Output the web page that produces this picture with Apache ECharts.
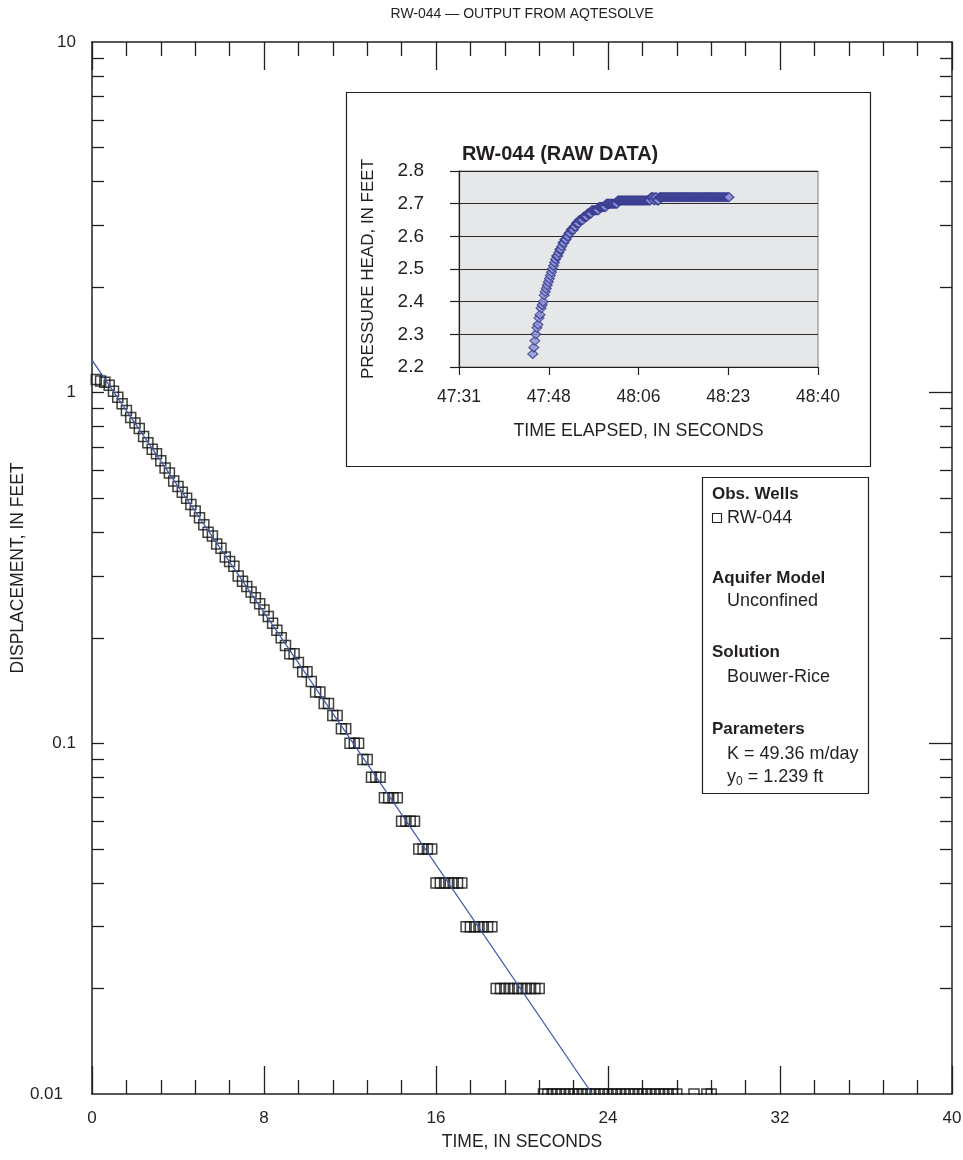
<!DOCTYPE html>
<html>
<head>
<meta charset="utf-8">
<script src="https://cdn.jsdelivr.net/npm/echarts@6/dist/echarts.min.js"></script>
<style>
  html, body { margin: 0; background: #fff; }
  #chart { width: 963px; height: 1160px; }
</style>
</head>
<body>
<div id="chart"></div>
<script>
// RW-044 slug test — AQTESOLVE output (displacement vs time, log y)
// with the raw pressure-head record as an inset.

// ── Observed displacement (ft) vs time (s); 0.00 readings left off the log axis
const obsTime = [
  0.2, 0.4, 0.6, 0.8, 1.0, 1.2, 1.4, 1.6, 1.8, 2.0,
  2.2, 2.4, 2.6, 2.8, 3.0, 3.2, 3.4, 3.6, 3.8, 4.0,
  4.2, 4.4, 4.6, 4.8, 5.0, 5.2, 5.4, 5.6, 5.8, 6.0,
  6.2, 6.4, 6.6, 6.8, 7.0, 7.2, 7.4, 7.6, 7.8, 8.0,
  8.2, 8.4, 8.6, 8.8, 9.0, 9.2, 9.4, 9.6, 9.8, 10.0,
  10.2, 10.4, 10.6, 10.8, 11.0, 11.2, 11.4, 11.6, 11.8, 12.0,
  12.2, 12.4, 12.6, 12.8, 13.0, 13.2, 13.4, 13.6, 13.8, 14.0,
  14.2, 14.4, 14.6, 14.8, 15.0, 15.2, 15.4, 15.6, 15.8, 16.0,
  16.2, 16.4, 16.6, 16.8, 17.0, 17.2, 17.4, 17.6, 17.8, 18.0,
  18.2, 18.4, 18.6, 18.8, 19.0, 19.2, 19.4, 19.6, 19.8, 20.0,
  20.2, 20.4, 20.6, 20.8, 21.0, 21.2, 21.4, 21.6, 21.8, 22.0,
  22.2, 22.4, 22.6, 22.8, 23.0, 23.2, 23.4, 23.6, 23.8, 24.0,
  24.2, 24.4, 24.6, 24.8, 25.0, 25.2, 25.4, 25.6, 25.8, 26.0,
  26.2, 26.4, 26.6, 26.8, 27.0, 27.2, 28.0, 28.6, 28.8
];
const obsDisp = [
  1.09, 1.08, 1.07, 1.05, 1.01, 0.97, 0.93, 0.89, 0.85, 0.82,
  0.79, 0.75, 0.72, 0.69, 0.67, 0.64, 0.61, 0.59, 0.56, 0.54,
  0.52, 0.50, 0.48, 0.46, 0.44, 0.42, 0.40, 0.39, 0.37, 0.36,
  0.34, 0.33, 0.32, 0.30, 0.29, 0.28, 0.27, 0.26, 0.25, 0.24,
  0.23, 0.22, 0.21, 0.20, 0.19, 0.18, 0.18, 0.17, 0.16, 0.16,
  0.15, 0.14, 0.14, 0.13, 0.13, 0.12, 0.12, 0.11, 0.11, 0.10,
  0.10, 0.10, 0.09, 0.09, 0.08, 0.08, 0.08, 0.07, 0.07, 0.07,
  0.07, 0.06, 0.06, 0.06, 0.06, 0.05, 0.05, 0.05, 0.05, 0.04,
  0.04, 0.04, 0.04, 0.04, 0.04, 0.04, 0.03, 0.03, 0.03, 0.03,
  0.03, 0.03, 0.03, 0.02, 0.02, 0.02, 0.02, 0.02, 0.02, 0.02,
  0.02, 0.02, 0.02, 0.02, 0.01, 0.01, 0.01, 0.01, 0.01, 0.01,
  0.01, 0.01, 0.01, 0.01, 0.01, 0.01, 0.01, 0.01, 0.01, 0.01,
  0.01, 0.01, 0.01, 0.01, 0.01, 0.01, 0.01, 0.01, 0.01, 0.01,
  0.01, 0.01, 0.01, 0.01, 0.01, 0.01, 0.01, 0.01, 0.01
];

// Bouwer-Rice fit, drawn as a straight line on the log axis
const fitTime = [0, 23.27];
const fitDisp = [1.239, 0.01];

// ── Raw pressure head (ft) vs clock time (s past the hour) for the inset
const rawTime = [
  2865.4, 2865.6, 2865.8, 2866.0, 2866.2, 2866.4, 2866.6, 2866.8, 2867.0, 2867.2,
  2867.4, 2867.6, 2867.8, 2868.0, 2868.2, 2868.4, 2868.6, 2868.8, 2869.0, 2869.2,
  2869.4, 2869.6, 2869.8, 2870.0, 2870.2, 2870.4, 2870.6, 2870.8, 2871.0, 2871.2,
  2871.4, 2871.6, 2871.8, 2872.0, 2872.2, 2872.4, 2872.6, 2872.8, 2873.0, 2873.2,
  2873.4, 2873.6, 2873.8, 2874.0, 2874.2, 2874.4, 2874.6, 2874.8, 2875.0, 2875.2,
  2875.4, 2875.6, 2875.8, 2876.0, 2876.2, 2876.4, 2876.6, 2876.8, 2877.0, 2877.2,
  2877.4, 2877.6, 2877.8, 2878.0, 2878.2, 2878.4, 2878.6, 2878.8, 2879.0, 2879.2,
  2879.4, 2879.6, 2879.8, 2880.0, 2880.2, 2880.4, 2880.6, 2880.8, 2881.0, 2881.2,
  2881.4, 2881.6, 2881.8, 2882.0, 2882.2, 2882.4, 2882.6, 2882.8, 2883.0, 2883.2,
  2883.4, 2883.6, 2883.8, 2884.0, 2884.2, 2884.4, 2884.6, 2884.8, 2885.0, 2885.2,
  2885.4, 2885.6, 2885.8, 2886.0, 2886.2, 2886.4, 2886.6, 2886.8, 2887.0, 2887.2,
  2887.4, 2887.6, 2887.8, 2888.0, 2888.2, 2888.4, 2888.6, 2888.8, 2889.0, 2889.2,
  2889.4, 2889.6, 2889.8, 2890.0, 2890.2, 2890.4, 2890.6, 2890.8, 2891.0, 2891.2,
  2891.4, 2891.6, 2891.8, 2892.0, 2892.2, 2892.4, 2892.6, 2892.8, 2893.0, 2893.2,
  2893.4, 2893.6, 2893.8, 2894.0, 2894.2, 2894.4, 2894.6, 2894.8, 2895.0, 2895.2,
  2895.4, 2895.6, 2895.8, 2896.0, 2896.2, 2896.4, 2896.6, 2896.8, 2897.0, 2897.2,
  2897.4, 2897.6, 2897.8, 2898.0, 2898.2, 2898.4, 2898.6, 2898.8, 2899.0, 2899.2,
  2899.4, 2899.6, 2899.8, 2900.0, 2900.2, 2900.4, 2900.6, 2900.8, 2901.0, 2901.2,
  2901.4, 2901.6, 2901.8, 2902.0, 2902.2, 2902.4, 2902.6, 2902.8, 2903.0, 2903.2
];
const rawHead = [
  2.24, 2.26, 2.28, 2.30, 2.32, 2.33, 2.35, 2.36, 2.38, 2.39,
  2.40, 2.42, 2.43, 2.44, 2.45, 2.46, 2.47, 2.48, 2.49, 2.50,
  2.51, 2.52, 2.53, 2.54, 2.54, 2.55, 2.56, 2.56, 2.57, 2.58,
  2.58, 2.59, 2.59, 2.60, 2.60, 2.61, 2.61, 2.62, 2.62, 2.62,
  2.63, 2.63, 2.64, 2.64, 2.64, 2.65, 2.65, 2.65, 2.65, 2.66,
  2.66, 2.66, 2.66, 2.67, 2.67, 2.67, 2.67, 2.68, 2.68, 2.68,
  2.68, 2.68, 2.68, 2.68, 2.69, 2.69, 2.69, 2.69, 2.69, 2.69,
  2.69, 2.70, 2.70, 2.70, 2.70, 2.70, 2.70, 2.70, 2.70, 2.70,
  2.70, 2.70, 2.71, 2.71, 2.71, 2.71, 2.71, 2.71, 2.71, 2.71,
  2.71, 2.71, 2.71, 2.71, 2.71, 2.71, 2.71, 2.71, 2.71, 2.71,
  2.71, 2.71, 2.71, 2.71, 2.71, 2.71, 2.71, 2.71, 2.71, 2.71,
  2.71, 2.71, 2.71, 2.71, 2.72, 2.72, 2.72, 2.71, 2.72, 2.72,
  2.71, 2.71, 2.72, 2.72, 2.72, 2.72, 2.72, 2.72, 2.72, 2.72,
  2.72, 2.72, 2.72, 2.72, 2.72, 2.72, 2.72, 2.72, 2.72, 2.72,
  2.72, 2.72, 2.72, 2.72, 2.72, 2.72, 2.72, 2.72, 2.72, 2.72,
  2.72, 2.72, 2.72, 2.72, 2.72, 2.72, 2.72, 2.72, 2.72, 2.72,
  2.72, 2.72, 2.72, 2.72, 2.72, 2.72, 2.72, 2.72, 2.72, 2.72,
  2.72, 2.72, 2.72, 2.72, 2.72, 2.72, 2.72, 2.72, 2.72, 2.72,
  2.72, 2.72, 2.72, 2.72, 2.72, 2.72, 2.72, 2.72, 2.72, 2.72
];

// Log-axis tick values (decades carry the longer ticks on the right side)
const yMajorTicks = [0.1, 1];
const yMinorTicks = [
  0.02, 0.03, 0.04, 0.05, 0.06, 0.07, 0.08, 0.09,
  0.2, 0.3, 0.4, 0.5, 0.6, 0.7, 0.8, 0.9,
  2, 3, 4, 5, 6, 7, 8, 9
];

// ── Styling ─────────────────────────────────────────────────────────────
const FONT = '"Liberation Sans Narrow", "Arial Narrow", "Liberation Sans", Arial, sans-serif';
const INK = '#231f20';
const FIT_BLUE = '#3d5aa8';
const RAW_EDGE = '#2f338a';
const RAW_FILL = '#8f94d4';

const MAIN = { left: 92, top: 42, width: 860, height: 1052 };
const INSET = { left: 459, top: 171, width: 359, height: 196 };

const txt = (size, extra) => Object.assign({ color: INK, fontFamily: FONT, fontSize: size }, extra || {});
const ln = (w) => ({ color: INK, width: w });

// log axis positions for the helper tick axes
const toLog = (arr) => arr.map(v => Math.log10(v));

// seconds -> mm:ss (Excel-style elapsed clock)
function mmss(v) {
  const m = Math.floor(v / 60);
  const s = Math.round(v - m * 60);
  return m + ':' + String(s).padStart(2, '0');
}

const chart = echarts.init(document.getElementById('chart'), null, { renderer: 'canvas' });

// plain x-axis with inward ticks, used top and bottom
function mainX(position, extra) {
  return Object.assign({
    gridIndex: 0, type: 'value', position, min: 0, max: 40, interval: 8,
    axisLine: { show: true, onZero: false, lineStyle: ln(1.5) },
    axisTick: { show: true, inside: true, length: 28, lineStyle: ln(1.3) },
    minorTick: { show: true, splitNumber: 5, length: 14, lineStyle: ln(1.3) },
    splitLine: { show: false },
    minorSplitLine: { show: false },
    nameMoveOverlap: false,
  }, extra);
}

// helper value axis over log10 space: only draws ticks
function tickY(position, values, len, showLine) {
  return {
    gridIndex: 0, type: 'value', position, min: -2, max: 1,
    axisLine: { show: !!showLine, onZero: false, lineStyle: ln(1.5) },
    axisTick: { show: true, inside: true, length: len, customValues: toLog(values), lineStyle: ln(1.3) },
    axisLabel: { show: false },
    splitLine: { show: false },
  };
}

const option = {
  animation: false,
  backgroundColor: '#fff',
  title: [{
    text: 'RW-044 (RAW DATA)',
    left: 457, top: 139,
    textStyle: { color: INK, fontFamily: '"Liberation Sans", Arial, sans-serif', fontWeight: 'bold', fontSize: 20 },
  }],
  grid: [
    Object.assign({ containLabel: false, outerBoundsMode: 'none' }, MAIN),
    Object.assign({ containLabel: false, outerBoundsMode: 'none', show: true,
      backgroundColor: '#e6e7e9', borderColor: '#7d7d7d', borderWidth: 1 }, INSET),
  ],
  xAxis: [
    mainX('bottom', {
      axisLabel: txt(17, { margin: 16 }),
      name: 'TIME, IN SECONDS', nameLocation: 'middle', nameGap: 39,
      nameTextStyle: txt(17.5),
    }),
    mainX('top', {
      axisLabel: { show: false },
      name: 'RW-044 — OUTPUT FROM AQTESOLVE', nameLocation: 'middle', nameGap: 21,
      nameTextStyle: txt(14),
    }),
    {
      gridIndex: 1, type: 'value', min: 2851.2, max: 2920.32, interval: 17.28,
      axisLine: { show: true, onZero: false, lineStyle: ln(1.2) },
      axisTick: { show: true, inside: false, length: 8, lineStyle: ln(1.2) },
      axisLabel: txt(17.5, { margin: 21, formatter: mmss }),
      splitLine: { show: false },
      name: 'TIME ELAPSED, IN SECONDS', nameLocation: 'middle', nameGap: 55,
      nameMoveOverlap: false,
      nameTextStyle: txt(17.8),
    },
  ],
  yAxis: [
    {
      gridIndex: 0, type: 'log', logBase: 10, min: 0.01, max: 10, position: 'left',
      axisLine: { show: true, onZero: false, lineStyle: ln(1.5) },
      axisTick: { show: false },
      minorTick: { show: false },
      splitLine: { show: false },
      axisLabel: txt(17, {
        margin: 16,
        formatter: (v) => {
          const s = String(+v.toPrecision(3));
          return s === '0.01' ? '{s|' + s + '}' : s;
        },
        rich: { s: txt(17, { padding: [0, 13, 0, 0] }) },
      }),
      name: 'DISPLACEMENT, IN FEET', nameLocation: 'middle', nameGap: 65,
      nameMoveOverlap: false,
      nameTextStyle: txt(17.5),
    },
    tickY('left', yMajorTicks.concat(yMinorTicks), 12, false),
    tickY('right', yMinorTicks, 12, true),
    tickY('right', yMajorTicks, 23, false),
    {
      gridIndex: 1, type: 'value', min: 2.2, max: 2.8, interval: 0.1,
      axisLine: { show: true, onZero: false, lineStyle: ln(1.2) },
      axisTick: { show: true, inside: false, length: 9, lineStyle: ln(1.2) },
      axisLabel: txt(19, { margin: 35, formatter: (v) => v.toFixed(1) }),
      splitLine: { show: true, lineStyle: { color: '#2a2a2a', width: 1 } },
      name: 'PRESSURE HEAD, IN FEET', nameLocation: 'middle', nameGap: 82,
      nameMoveOverlap: false,
      nameTextStyle: txt(17),
    },
  ],
  series: [
    {
      name: 'RW-044', type: 'scatter', xAxisIndex: 0, yAxisIndex: 0,
      symbol: 'rect', symbolSize: 10,
      itemStyle: { color: 'rgba(255,255,255,0)', borderColor: '#111', borderWidth: 1.5 },
      data: obsTime.map((t, i) => [t, obsDisp[i]]),
      z: 3,
    },
    {
      name: 'Bouwer-Rice', type: 'line', xAxisIndex: 0, yAxisIndex: 0,
      showSymbol: false, symbol: 'none',
      lineStyle: { color: FIT_BLUE, width: 1.3 },
      data: fitTime.map((t, i) => [t, fitDisp[i]]),
      z: 4,
    },
    {
      name: 'RW-044 raw', type: 'scatter', xAxisIndex: 2, yAxisIndex: 4,
      symbol: 'diamond', symbolSize: [10, 9],
      itemStyle: { color: RAW_FILL, borderColor: RAW_EDGE, borderWidth: 1.1 },
      data: rawTime.map((t, i) => [t, rawHead[i]]),
    },
  ],
  graphic: [
    // inset frame
    {
      type: 'rect', z: -10, silent: true,
      shape: { x: 346.5, y: 92.5, width: 524, height: 374 },
      style: { fill: null, stroke: INK, lineWidth: 1.2 },
    },
    // mask: the 0.01 squares are clipped at the bottom axis in the original
    {
      type: 'rect', z: 100, silent: true,
      shape: { x: MAIN.left - 2, y: MAIN.top + MAIN.height + 1, width: MAIN.width + 4, height: 9 },
      style: { fill: '#fff' },
    },
    // legend / parameter box
    {
      type: 'group', z: 50, silent: true,
      children: [
        { type: 'rect', shape: { x: 702.5, y: 477.5, width: 166, height: 316 },
          style: { fill: '#fff', stroke: INK, lineWidth: 1.2 } },
        { type: 'text', x: 712, y: 494, style: { text: 'Obs. Wells', fill: INK, fontFamily: FONT, fontSize: 17, fontWeight: 'bold', verticalAlign: 'middle' } },
        { type: 'rect', shape: { x: 712.5, y: 513.5, width: 9, height: 9 },
          style: { fill: null, stroke: INK, lineWidth: 1.1 } },
        { type: 'text', x: 727, y: 518, style: { text: 'RW-044', fill: INK, fontFamily: FONT, fontSize: 18, verticalAlign: 'middle' } },
        { type: 'text', x: 712, y: 578, style: { text: 'Aquifer Model', fill: INK, fontFamily: FONT, fontSize: 17, fontWeight: 'bold', verticalAlign: 'middle' } },
        { type: 'text', x: 727, y: 601, style: { text: 'Unconfined', fill: INK, fontFamily: FONT, fontSize: 18, verticalAlign: 'middle' } },
        { type: 'text', x: 712, y: 652, style: { text: 'Solution', fill: INK, fontFamily: FONT, fontSize: 17, fontWeight: 'bold', verticalAlign: 'middle' } },
        { type: 'text', x: 727, y: 677, style: { text: 'Bouwer-Rice', fill: INK, fontFamily: FONT, fontSize: 18, verticalAlign: 'middle' } },
        { type: 'text', x: 712, y: 729, style: { text: 'Parameters', fill: INK, fontFamily: FONT, fontSize: 17, fontWeight: 'bold', verticalAlign: 'middle' } },
        { type: 'text', x: 727, y: 754, style: { text: 'K = 49.36 m/day', fill: INK, fontFamily: FONT, fontSize: 18, verticalAlign: 'middle' } },
        { type: 'text', x: 727, y: 777, style: {
            text: '{a|y}{b|0}{a| = 1.239 ft}', fill: INK, verticalAlign: 'middle',
            rich: {
              a: { fill: INK, fontFamily: FONT, fontSize: 18 },
              b: { fill: INK, fontFamily: FONT, fontSize: 12, padding: [9, 0, 0, 0] },
            },
          } },
      ],
    },
  ],
};

chart.setOption(option);
</script>
</body>
</html>
